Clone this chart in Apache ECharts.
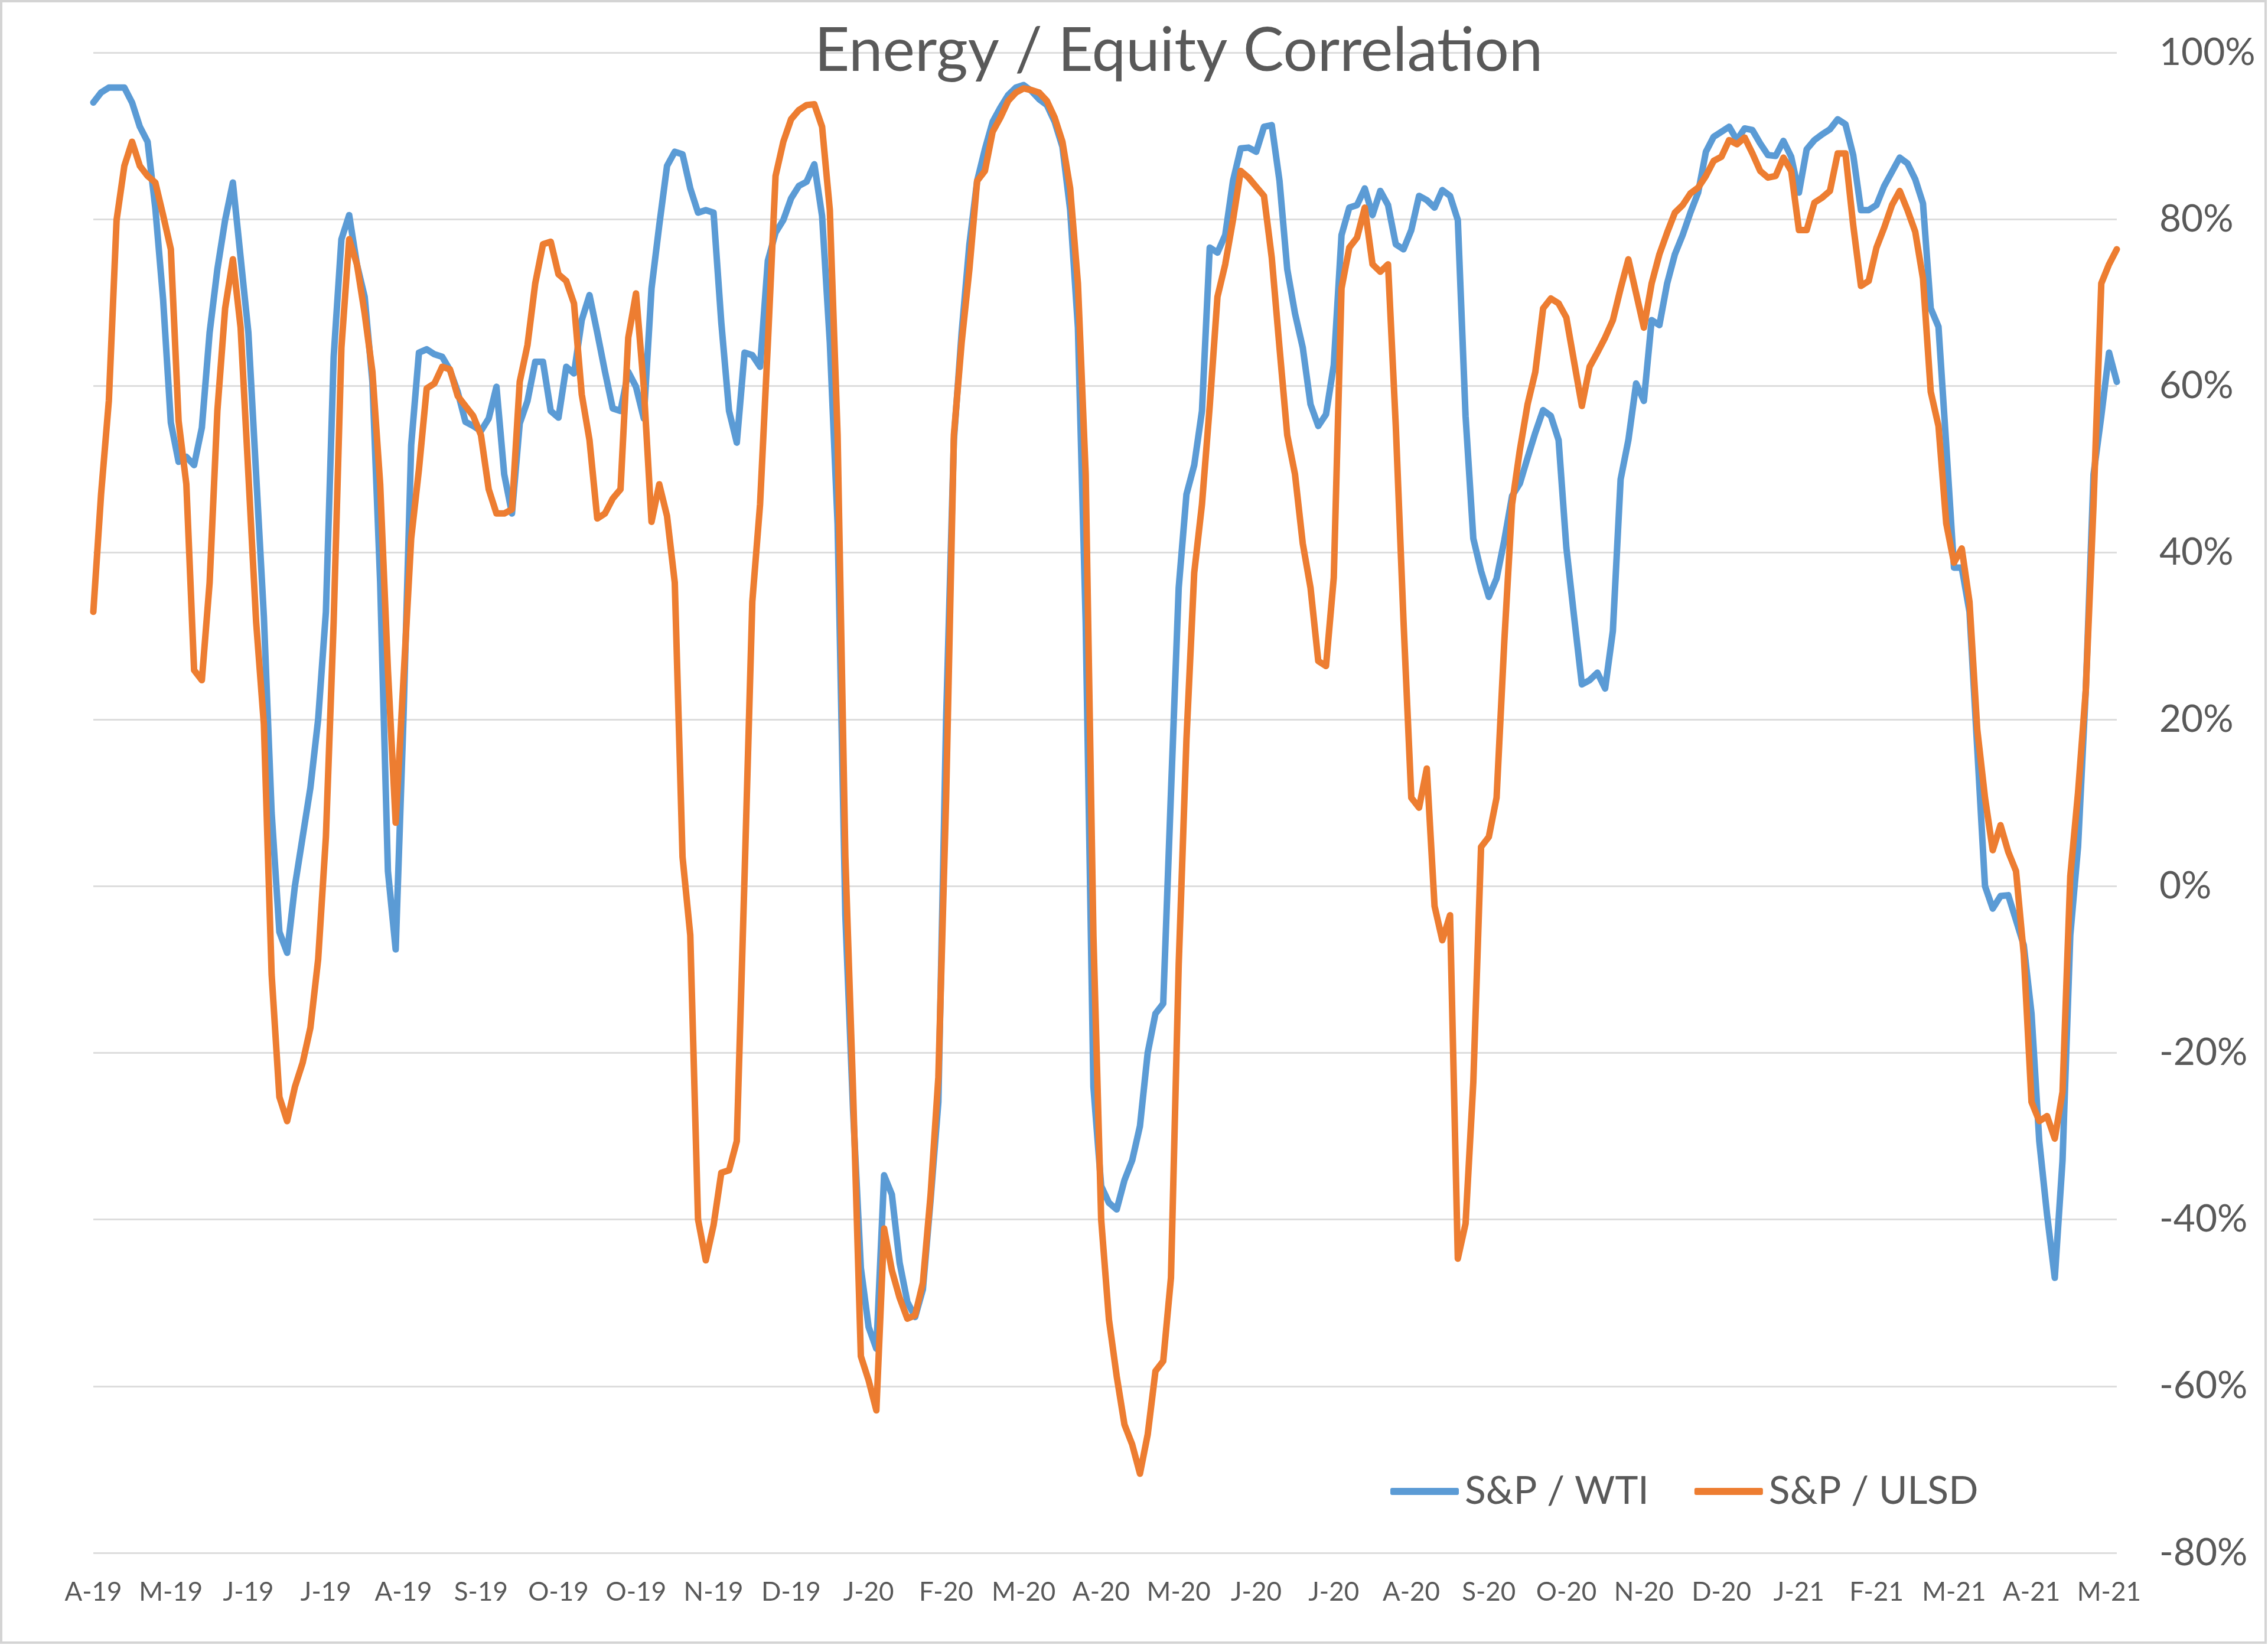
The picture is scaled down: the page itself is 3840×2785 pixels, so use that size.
<!DOCTYPE html>
<html>
<head>
<meta charset="utf-8">
<script src="https://cdn.jsdelivr.net/npm/echarts@6/dist/echarts.min.js"></script>
<style>
html,body{margin:0;padding:0;background:#fff;}
#chart{width:3840px;height:2785px;}
</style>
</head>
<body>
<div id="chart"></div>
<script>
const tickLabels = ['A-19','M-19','J-19','J-19','A-19','S-19','O-19','O-19','N-19','D-19','J-20','F-20','M-20','A-20','M-20','J-20','J-20','A-20','S-20','O-20','N-20','D-20','J-21','F-21','M-21','A-21','M-21'];
const pointsPerLabel = 10;
const seriesNames = ['S&P / WTI', 'S&P / ULSD'];

const wti = [
94.0,95.2,95.8,95.8,95.8,94.0,91.1,89.3,81.3,70.4,
55.6,50.9,51.5,50.5,55.0,66.4,74.0,79.9,84.4,75.4,
66.4,49.4,32.3,8.8,-5.5,-8.0,0.0,5.9,11.8,20.0,
32.9,63.5,77.6,80.5,74.6,70.7,60.5,36.4,1.8,-7.6,
20.0,52.9,64.0,64.4,63.8,63.5,61.9,59.3,55.7,55.2,
54.6,56.1,59.9,49.4,44.7,55.5,58.2,62.9,62.9,57.0,
56.2,62.3,61.5,67.9,70.9,66.4,61.7,57.3,57.0,61.7,
59.9,56.1,71.7,79.3,86.4,88.1,87.8,83.7,80.8,81.1,
80.8,67.6,57.0,53.2,64.0,63.7,62.3,75.0,78.4,79.9,
82.5,84.0,84.5,86.6,80.4,65.2,43.5,-3.5,-27.0,-45.8,
-52.9,-55.5,-34.7,-37.0,-45.2,-49.9,-51.7,-48.4,-37.6,-25.9,
20.0,53.5,66.4,77.0,84.6,88.4,91.7,93.4,94.9,95.8,
96.1,95.4,94.4,93.7,91.7,88.7,81.1,67.0,31.7,-24.1,
-36.0,-38.0,-38.8,-35.3,-32.9,-28.8,-20.0,-15.3,-14.1,11.2,
35.8,47.0,50.5,57.0,76.6,76.0,78.1,84.6,88.5,88.6,
88.1,91.1,91.3,84.6,74.0,68.7,64.6,57.8,55.2,56.6,
62.5,78.1,81.4,81.7,83.7,80.5,83.4,81.7,77.0,76.4,
78.7,82.8,82.3,81.4,83.5,82.8,79.9,56.4,41.7,37.8,
34.7,36.9,41.5,46.8,48.3,51.4,54.4,57.1,56.4,53.5,
40.6,32.3,24.2,24.7,25.6,23.7,30.6,48.8,53.5,60.3,
58.2,67.9,67.3,72.3,75.8,78.1,80.8,83.2,88.1,89.9,
90.5,91.1,89.5,90.9,90.7,89.1,87.7,87.6,89.4,87.5,
83.2,88.4,89.5,90.2,90.8,92.0,91.4,87.7,81.1,81.1,
81.7,84.0,85.7,87.4,86.7,84.8,81.9,69.3,67.1,52.9,
38.2,38.2,32.9,16.5,0.0,-2.7,-1.2,-1.1,-4.1,-7.1,
-15.3,-30.6,-39.4,-47.0,-32.9,-5.9,4.7,23.5,49.4,56.4,
64.0,60.5
];

const ulsd = [
32.9,47.0,58.2,79.9,86.4,89.3,86.4,85.2,84.4,80.5,
76.4,55.8,48.2,25.9,24.7,36.4,57.0,69.3,75.2,67.0,
49.4,31.7,19.4,-10.6,-25.3,-28.2,-24.1,-21.2,-17.0,-8.8,
5.9,31.7,64.6,77.6,74.6,68.7,61.7,48.2,25.9,7.6,
24.7,41.7,50.0,59.7,60.3,62.3,62.0,58.8,57.6,56.4,
54.1,47.6,44.7,44.7,45.2,60.5,64.9,72.3,77.0,77.3,
73.4,72.6,69.9,59.0,53.5,44.1,44.7,46.5,47.6,65.8,
71.1,59.9,43.7,48.2,44.4,36.4,3.5,-5.9,-40.0,-44.9,
-40.7,-34.4,-34.1,-30.6,1.2,34.1,45.8,65.0,85.2,89.3,
92.0,93.1,93.7,93.8,91.1,81.1,54.1,3.5,-24.7,-56.4,
-59.3,-62.9,-41.1,-46.1,-49.4,-51.9,-51.5,-47.6,-37.0,-22.9,
10.6,54.1,65.2,74.0,84.6,85.8,90.5,92.2,94.2,95.2,
95.7,95.5,95.2,94.2,92.2,89.3,83.7,72.3,49.4,-6.0,
-40.0,-52.0,-58.8,-64.6,-67.0,-70.5,-65.8,-58.2,-57.0,-47.0,
-9.4,17.6,37.6,45.8,57.6,70.7,74.6,79.9,85.8,85.0,
83.9,82.8,75.4,64.6,54.1,49.4,41.1,35.8,27.0,26.4,
37.0,71.7,76.6,77.8,81.4,74.6,73.7,74.6,55.2,31.7,
10.6,9.4,14.1,-2.4,-6.5,-3.5,-44.7,-40.5,-23.5,4.7,
5.9,10.6,29.4,45.8,52.3,57.8,61.7,69.3,70.5,69.9,
68.2,62.9,57.6,62.3,64.0,65.8,67.9,71.7,75.2,71.1,
67.0,72.3,75.8,78.4,80.8,81.7,83.1,83.8,85.2,87.0,
87.5,89.5,89.0,89.8,87.9,85.8,85.0,85.2,87.4,85.8,
78.7,78.7,82.0,82.6,83.4,87.9,87.9,79.3,72.0,72.6,
76.6,79.0,81.7,83.4,81.1,78.5,72.9,59.3,55.2,43.5,
38.8,40.5,34.1,18.8,10.6,4.3,7.3,4.1,1.8,-8.2,
-25.9,-28.2,-27.6,-30.3,-24.7,1.2,11.2,23.5,45.8,72.3,
74.6,76.4
];

const FONT = 'Lato';
const TEXT = '#595959';
const chart = echarts.init(document.getElementById('chart'), null, {renderer: 'canvas'});
const toPairs = arr => arr.map((v, i) => [i, v]);

chart.setOption({
  animation: false,
  backgroundColor: '#ffffff',
  title: {
    text: 'Energy / Equity Correlation',
    left: 1374,
    top: 30,
    textStyle: {fontFamily: FONT, fontSize: 103, fontWeight: 'normal', color: TEXT}
  },
  grid: {left: 158, right: 256, top: 89, bottom: 156, containLabel: false},
  legend: {
    data: seriesNames,
    left: 2349,
    top: 2487,
    itemWidth: 116,
    itemHeight: 12,
    itemGap: 77,
    icon: 'roundRect',
    textStyle: {fontFamily: FONT, fontSize: 66, color: TEXT, padding: [0, 0, 0, 5]}
  },
  xAxis: {
    type: 'value',
    min: 0,
    max: wti.length - 1,
    interval: pointsPerLabel,
    axisLine: {show: false},
    axisTick: {show: false},
    splitLine: {show: false},
    axisLabel: {
      fontFamily: FONT, fontSize: 44, color: TEXT, margin: 45,
      formatter: v => (v % pointsPerLabel === 0 ? (tickLabels[v / pointsPerLabel] || '') : '')
    }
  },
  yAxis: {
    type: 'value',
    position: 'right',
    min: -80,
    max: 100,
    interval: 20,
    axisLine: {show: false},
    axisTick: {show: false},
    splitLine: {lineStyle: {color: '#dddddd', width: 3}},
    axisLabel: {fontFamily: FONT, fontSize: 64, color: TEXT, margin: 72, formatter: '{value}%'}
  },
  series: [
    {name: seriesNames[0], type: 'line', data: toPairs(wti), symbol: 'none', smooth: false,
     lineStyle: {color: '#5B9BD5', width: 11, cap: 'round', join: 'round'}, itemStyle: {color: '#5B9BD5'}},
    {name: seriesNames[1], type: 'line', data: toPairs(ulsd), symbol: 'none', smooth: false,
     lineStyle: {color: '#ED7D31', width: 11, cap: 'round', join: 'round'}, itemStyle: {color: '#ED7D31'}}
  ],
  graphic: [{
    type: 'rect', silent: true, z: 100,
    shape: {x: 2, y: 2, width: 3834, height: 2779},
    style: {fill: 'none', stroke: '#d4d4d4', lineWidth: 4}
  }]
});
</script>
</body>
</html>
